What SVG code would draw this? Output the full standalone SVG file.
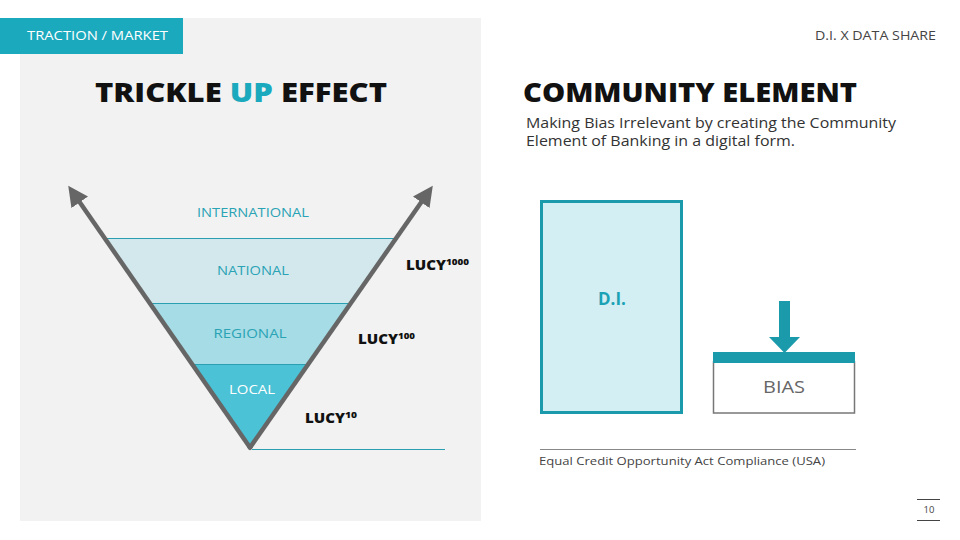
<svg xmlns="http://www.w3.org/2000/svg" width="960" height="540" viewBox="0 0 960 540">
<defs>
<style>
text{font-family:"Open Sans","Liberation Sans",sans-serif}
.h{font-weight:800;font-size:27px;fill:#111}
.band{font-size:13.5px;fill:#2aa3b5;text-anchor:middle}
.lucy{font-weight:800;font-size:13.5px;fill:#111}
.sup{font-size:9px}
.axis{stroke:#666;stroke-width:4.5;fill:none;marker-end:url(#ah)}
</style>
<marker id="ah" viewBox="0 0 10 10" refX="5" refY="5" markerWidth="4.5" markerHeight="4.5" orient="auto" markerUnits="strokeWidth">
<path d="M0,0 L10,5 L0,10 z" fill="#666"/>
</marker>
</defs>
<rect width="960" height="540" fill="#fff"/>
<rect x="20" y="18" width="461" height="503" fill="#f2f2f2"/>
<g id="tab">
<rect x="0" y="18" width="183" height="36" fill="#1ba9be"/>
<text x="27" y="40" font-size="13" fill="#fff" textLength="141" lengthAdjust="spacingAndGlyphs">TRACTION / MARKET</text>
</g>
<text x="815" y="40" font-size="13" fill="#444" textLength="121" lengthAdjust="spacingAndGlyphs">D.I. X DATA SHARE</text>
<text class="h" x="95" y="102" textLength="292" lengthAdjust="spacingAndGlyphs">TRICKLE <tspan fill="#1ba9be">UP</tspan> EFFECT</text>
<text class="h" x="523" y="102" textLength="334" lengthAdjust="spacingAndGlyphs">COMMUNITY ELEMENT</text>
<text x="526" y="128" font-size="14.5" fill="#333" textLength="370" lengthAdjust="spacingAndGlyphs">Making Bias Irrelevant by creating the Community</text>
<text x="526" y="146" font-size="14.5" fill="#333" textLength="269" lengthAdjust="spacingAndGlyphs">Element of Banking in a digital form.</text>

<g id="funnel">
<polygon points="104,238 397,238 352,303 149,303" fill="#d3e8ed"/>
<polygon points="149,303 352,303 309,364 191,364" fill="#a5dce5"/>
<polygon points="191,364 309,364 250,449" fill="#4bc2d5"/>
<line x1="106" y1="238.5" x2="396" y2="238.5" stroke="#2a9fb2" stroke-width="1"/>
<line x1="149" y1="303.5" x2="352" y2="303.5" stroke="#2a9fb2" stroke-width="1"/>
<line x1="191" y1="364.5" x2="309" y2="364.5" stroke="#2a9fb2" stroke-width="1"/>
<line x1="252" y1="449.5" x2="445" y2="449.5" stroke="#2a9fb2" stroke-width="1.2"/>
</g>
<g id="connectors">
<line class="axis" x1="251" y1="449" x2="74" y2="194"/>
<line class="axis" x1="249" y1="449" x2="427" y2="194"/>
</g>
<g id="labels">
<text class="band" x="253" y="217" textLength="112" lengthAdjust="spacingAndGlyphs">INTERNATIONAL</text>
<text class="band" x="253" y="275" textLength="72" lengthAdjust="spacingAndGlyphs">NATIONAL</text>
<text class="band" x="250" y="338" textLength="73" lengthAdjust="spacingAndGlyphs">REGIONAL</text>
<text class="band" x="252" y="394" style="fill:#fff" textLength="46" lengthAdjust="spacingAndGlyphs">LOCAL</text>
<text class="lucy" x="406" y="270"><tspan textLength="40" lengthAdjust="spacingAndGlyphs">LUCY</tspan><tspan class="sup" dy="-5" textLength="23" lengthAdjust="spacingAndGlyphs">1000</tspan></text>
<text class="lucy" x="358" y="344"><tspan textLength="40" lengthAdjust="spacingAndGlyphs">LUCY</tspan><tspan class="sup" dy="-5" textLength="17" lengthAdjust="spacingAndGlyphs">100</tspan></text>
<text class="lucy" x="305" y="423"><tspan textLength="40" lengthAdjust="spacingAndGlyphs">LUCY</tspan><tspan class="sup" dy="-5" textLength="12" lengthAdjust="spacingAndGlyphs">10</tspan></text>
</g>

<g id="di">
<rect x="541.5" y="201.5" width="140" height="211" fill="#d3eff3" stroke="#1a9aab" stroke-width="3"/>
<text x="612" y="305" font-size="17" font-weight="700" fill="#1ba2b5" text-anchor="middle">D.I.</text>
</g>
<g id="bias">
<rect x="713.5" y="362" width="141" height="51" fill="#fff" stroke="#777" stroke-width="1.5"/>
<rect x="713" y="352" width="142" height="11" fill="#1a9aab"/>
<text x="784" y="393" font-size="16" fill="#666" text-anchor="middle" textLength="42" lengthAdjust="spacingAndGlyphs">BIAS</text>
</g>
<g id="arrow">
<polygon points="779,301 790,301 790,337 800,337 784.5,353 769,337 779,337" fill="#1a9aab"/>
</g>
<line x1="540" y1="449.5" x2="856" y2="449.5" stroke="#888" stroke-width="1"/>
<text x="539" y="465" font-size="11.5" fill="#444" textLength="286" lengthAdjust="spacingAndGlyphs">Equal Credit Opportunity Act Compliance (USA)</text>
<g id="page">
<line x1="917" y1="499.5" x2="940" y2="499.5" stroke="#444" stroke-width="1"/>
<line x1="917" y1="520.5" x2="940" y2="520.5" stroke="#444" stroke-width="1"/>
<text x="929" y="513" font-size="9.5" fill="#444" text-anchor="middle">10</text>
</g>
</svg>
